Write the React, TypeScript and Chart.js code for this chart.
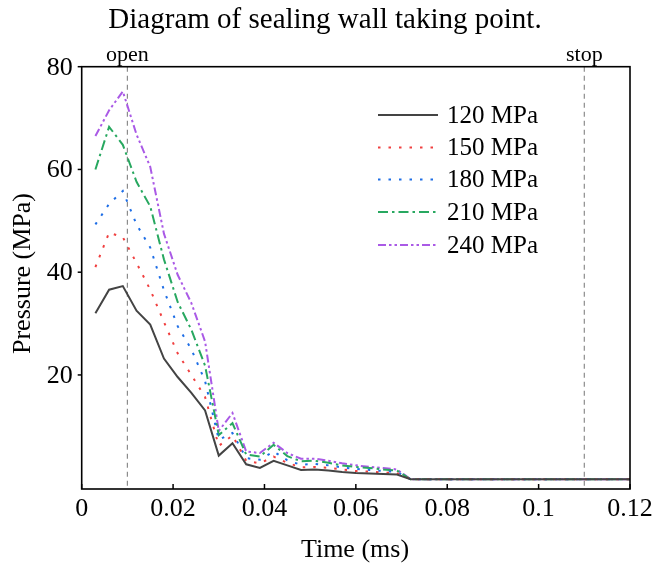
import React, { useEffect, useRef } from "react";
import { Chart, registerables } from "chart.js";

Chart.register(...registerables);

// ---- data ----
const TIME_MS = [0.003, 0.006, 0.009, 0.012, 0.015, 0.018, 0.021, 0.024, 0.027, 0.03, 0.033, 0.036, 0.039, 0.042, 0.045, 0.048, 0.051, 0.054, 0.057, 0.06, 0.063, 0.066, 0.069, 0.072, 0.12];
const P_120 = [32, 36.6, 37.3, 32.5, 29.8, 23.2, 19.6, 16.5, 13.1, 4.3, 6.7, 2.6, 1.9, 3.3, 2.4, 1.5, 1.6, 1.4, 1.1, 0.9, 0.8, 0.7, 0.6, -0.3, -0.3];
const P_150 = [41, 47.7, 46.8, 41.8, 36.6, 30.3, 24.2, 20, 15.7, 6.2, 8.2, 3.3, 2.8, 4.1, 2.9, 2.0, 2.1, 1.9, 1.6, 1.3, 1.2, 1.0, 0.9, -0.3, -0.3];
const P_180 = [49.3, 53.3, 55.8, 49.3, 44.8, 36.5, 29.5, 25, 18.8, 7.4, 8.7, 3.8, 3.5, 5.1, 3.4, 2.5, 2.7, 2.4, 2.0, 1.7, 1.5, 1.3, 1.1, -0.3, -0.3];
const P_210 = [60, 68.3, 64.8, 57.6, 52.8, 42.5, 34.2, 28.8, 21.8, 8.3, 10.6, 4.5, 4.1, 6.4, 4.2, 3.2, 3.3, 2.9, 2.4, 2.1, 1.9, 1.6, 1.4, -0.3, -0.3];
const P_240 = [66.5, 71.5, 75.2, 66.8, 60.5, 47.5, 39.5, 34, 26.5, 9.1, 12.6, 5.1, 4.8, 6.8, 4.8, 3.7, 3.7, 3.3, 2.8, 2.4, 2.1, 1.9, 1.6, -0.3, -0.3];
const SERIES_LABELS = ["120 MPa", "150 MPa", "180 MPa", "210 MPa", "240 MPa"];
const X_TICKS = [0, 0.02, 0.04, 0.06, 0.08, 0.1, 0.12];
const X_TICK_LABELS = ["0", "0.02", "0.04", "0.06", "0.08", "0.1", "0.12"];
const Y_TICKS = [20, 40, 60, 80];
const Y_TICK_LABELS = ["20", "40", "60", "80"];
const MARKER_TIMES = [0.01, 0.11];
const MARKER_LABELS = ["open", "stop"];
const TITLE = "Diagram of sealing wall taking point.";
const X_TITLE = "Time (ms)";
const Y_TITLE = "Pressure (MPa)";

const SERIF = '"Liberation Serif", "Times New Roman", serif';

const STYLES = [
  { color: "rgb(68,68,68)", dash: [] as number[] },
  { color: "rgb(240,64,64)", dash: [2.5, 8] },
  { color: "rgb(30,110,230)", dash: [2.5, 8] },
  { color: "rgb(40,168,96)", dash: [10, 4, 2.5, 4] },
  { color: "rgb(170,90,230)", dash: [8, 3, 2.5, 3, 2.5, 3] },
];

const SERIES = [P_120, P_150, P_180, P_210, P_240];

const decor = {
  id: "decor",
  beforeDatasetsDraw(chart: any) {
    const { ctx, chartArea: a, scales } = chart;
    ctx.save();
    ctx.strokeStyle = "rgb(140,140,140)";
    ctx.lineWidth = 1.2;
    ctx.setLineDash([5, 4]);
    MARKER_TIMES.forEach((m) => {
      const px = scales.x.getPixelForValue(m);
      ctx.beginPath();
      ctx.moveTo(px, a.top);
      ctx.lineTo(px, a.bottom);
      ctx.stroke();
    });
    ctx.restore();
  },
  afterDraw(chart: any) {
    const { ctx, chartArea: a, scales } = chart;
    ctx.save();
    // frame
    ctx.strokeStyle = "#000";
    ctx.lineWidth = 1.6;
    ctx.setLineDash([]);
    ctx.strokeRect(a.left, a.top, a.right - a.left, a.bottom - a.top);
    // x ticks inward
    ctx.lineWidth = 1.5;
    X_TICKS.forEach((t) => {
      const px = scales.x.getPixelForValue(t);
      ctx.beginPath();
      ctx.moveTo(px, a.bottom);
      ctx.lineTo(px, a.bottom - 5);
      ctx.stroke();
    });
    // y ticks outward
    Y_TICKS.forEach((t) => {
      const py = scales.y.getPixelForValue(t);
      ctx.beginPath();
      ctx.moveTo(a.left, py);
      ctx.lineTo(a.left - 4, py);
      ctx.stroke();
    });
    ctx.fillStyle = "#000";
    // tick labels
    ctx.font = `26px ${SERIF}`;
    ctx.textAlign = "center";
    ctx.textBaseline = "alphabetic";
    X_TICKS.forEach((t, i) => {
      ctx.fillText(X_TICK_LABELS[i], scales.x.getPixelForValue(t), 516);
    });
    ctx.textAlign = "right";
    ctx.textBaseline = "middle";
    Y_TICKS.forEach((t, i) => {
      ctx.fillText(Y_TICK_LABELS[i], a.left - 9, scales.y.getPixelForValue(t) + 1);
    });
    // title
    ctx.font = `29px ${SERIF}`;
    ctx.textAlign = "center";
    ctx.textBaseline = "alphabetic";
    ctx.fillText(TITLE, 325, 28);
    // marker labels
    ctx.font = `22px ${SERIF}`;
    MARKER_TIMES.forEach((m, i) => {
      const px = scales.x.getPixelForValue(m);
      ctx.fillText(MARKER_LABELS[i], px, 61);
    });
    // x title
    ctx.font = `26px ${SERIF}`;
    ctx.fillText(X_TITLE, 355, 557);
    // y title
    ctx.save();
    ctx.translate(30, 273.5);
    ctx.rotate(-Math.PI / 2);
    ctx.fillText(Y_TITLE, 0, 0);
    ctx.restore();
    // legend
    const rows = [115, 147.5, 179.5, 212, 245];
    SERIES_LABELS.forEach((lab, i) => {
      const yy = rows[i];
      ctx.strokeStyle = STYLES[i].color;
      ctx.lineWidth = 2;
      ctx.setLineDash(STYLES[i].dash);
      ctx.beginPath();
      ctx.moveTo(378, yy);
      ctx.lineTo(438, yy);
      ctx.stroke();
      ctx.setLineDash([]);
      ctx.fillStyle = "#000";
      ctx.textAlign = "left";
      ctx.textBaseline = "middle";
      ctx.font = `25px ${SERIF}`;
      ctx.fillText(lab, 447, yy + 1);
    });
    ctx.restore();
  },
};

export default function App() {
  const ref = useRef<HTMLCanvasElement | null>(null);
  useEffect(() => {
    document.body.style.margin = "0";
    const canvas = ref.current!;
    const chart = new Chart(canvas, {
      type: "line",
      data: {
        datasets: SERIES.map((vals, i) => ({
          label: SERIES_LABELS[i],
          data: TIME_MS.map((t, j) => ({ x: t, y: vals[j] })),
          borderColor: STYLES[i].color,
          borderDash: STYLES[i].dash,
          borderWidth: 2,
          pointRadius: 0,
          tension: 0,
          fill: false,
        })),
      },
      options: {
        animation: false,
        responsive: false,
        devicePixelRatio: 1,
        layout: { padding: { left: 0, top: 66.7, right: 24, bottom: 0 } },
        plugins: { legend: { display: false }, tooltip: { enabled: false }, title: { display: false } },
        scales: {
          x: {
            type: "linear",
            min: 0,
            max: 0.12,
            grid: { display: false, drawTicks: false },
            border: { display: false },
            afterFit: (s: any) => {
              s.height = 77;
            },
            ticks: { display: false },
          },
          y: {
            type: "linear",
            min: -2.2,
            max: 80,
            grid: { display: false, drawTicks: false },
            border: { display: false },
            afterFit: (s: any) => {
              s.width = 81.7;
            },
            ticks: { display: false },
          },
        },
      },
      plugins: [decor],
    } as any);
    return () => chart.destroy();
  }, []);
  return (
    <div style={{ width: 654, height: 566, background: "#fff" }}>
      <canvas ref={ref} width={654} height={566} style={{ display: "block" }} />
    </div>
  );
}
